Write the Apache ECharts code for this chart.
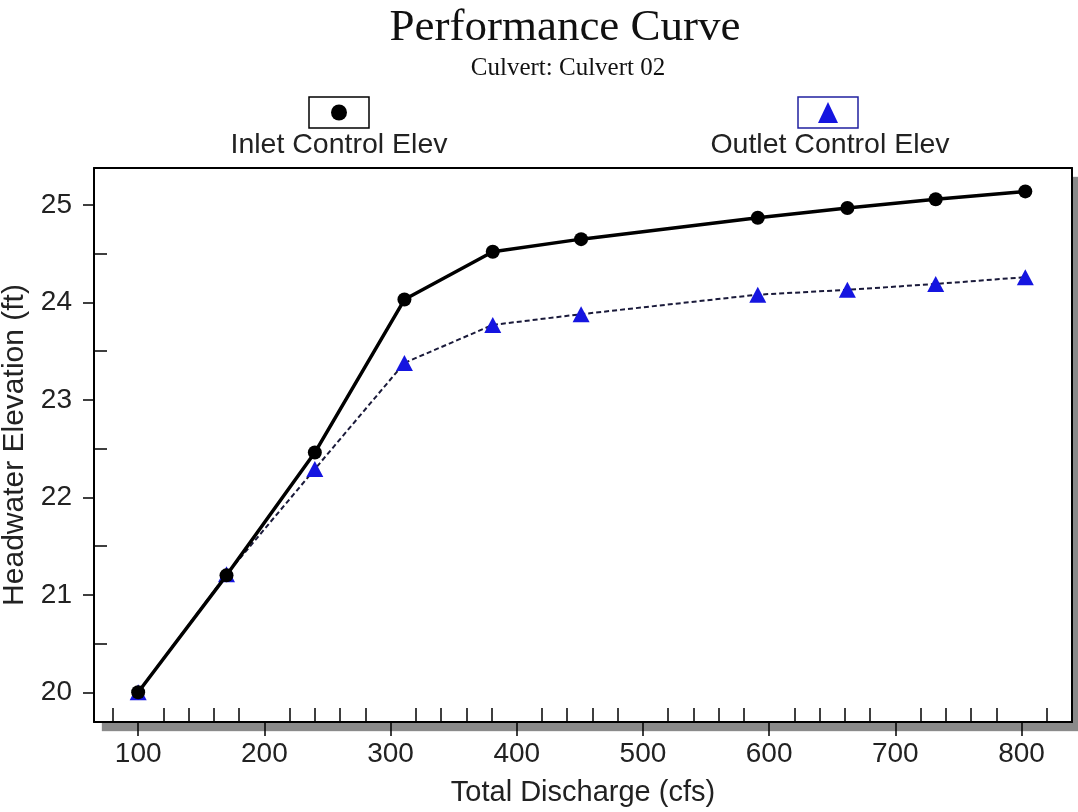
<!DOCTYPE html>
<html>
<head>
<meta charset="utf-8">
<script src="https://cdn.jsdelivr.net/npm/echarts@6/dist/echarts.min.js"></script>
<style>
  html, body { margin: 0; padding: 0; background: #fff; }
  #chart { width: 1078px; height: 812px; }
</style>
</head>
<body>
<div id="chart"></div>
<script>
// values
var discharge = [100, 170, 240, 311, 381, 451, 591, 662, 732, 803];
var inletElev = [20.0, 21.2, 22.46, 24.03, 24.52, 24.65, 24.87, 24.97, 25.06, 25.14];
var outletElev = [20.0, 21.21, 22.29, 23.38, 23.77, 23.88, 24.08, 24.13, 24.19, 24.26];

var xTicks = [100, 200, 300, 400, 500, 600, 700, 800];
var xMinorTicks = [80, 120, 140, 160, 180, 220, 240, 260, 280, 320, 340, 360, 380,
    420, 440, 460, 480, 520, 540, 560, 580, 620, 640, 660, 680, 720, 740, 760, 780, 820];
var yTicks = [20, 21, 22, 23, 24, 25];
var yMinorTicks = [20.5, 21.5, 22.5, 23.5, 24.5];

var sans = "Arial, 'Liberation Sans', sans-serif";
var serif = "'Times New Roman', 'Liberation Serif', serif";

var xMin = 65, xMax = 840, yMin = 19.695, yMax = 25.38;

function pairs(xs, ys) {
    var out = [];
    for (var i = 0; i < xs.length; i++) out.push([xs[i], ys[i]]);
    return out;
}

// plain frame axis (top / right side of the box)
function frameAxis(pos, min, max) {
    return {
        type: "value", min: min, max: max, position: pos,
        axisLine: { show: true, lineStyle: { color: "#000", width: 2 } },
        axisTick: { show: false },
        axisLabel: { show: false },
        splitLine: { show: false }
    };
}

var chart = echarts.init(document.getElementById("chart"));
chart.setOption({
    animation: false,
    backgroundColor: "#fff",
    grid: {
        left: 94, right: 6, top: 168, bottom: 90,
        show: true,
        backgroundColor: "#fff",
        borderWidth: 0,
        shadowColor: "#8a8a8a",
        shadowBlur: 1,
        shadowOffsetX: 8,
        shadowOffsetY: 9,
        outerBoundsMode: "none"
    },
    xAxis: [
        {
            type: "value", min: xMin, max: xMax, position: "bottom",
            axisLine: { lineStyle: { color: "#000", width: 2 } },
            axisTick: { customValues: xTicks, length: 14, lineStyle: { color: "#000", width: 1.5 } },
            axisLabel: { customValues: xTicks, fontSize: 28, fontFamily: sans, color: "#222", margin: 18 },
            splitLine: { show: false },
            name: "Total Discharge (cfs)",
            nameLocation: "middle",
            nameGap: 56,
            nameTextStyle: { fontSize: 29, fontFamily: sans, color: "#222" }
        },
        {
            type: "value", min: xMin, max: xMax, position: "bottom",
            axisLine: { show: false },
            axisTick: { inside: true, customValues: xMinorTicks, length: 14, lineStyle: { color: "#000", width: 1.5 } },
            axisLabel: { show: false },
            splitLine: { show: false }
        },
        frameAxis("top", xMin, xMax)
    ],
    yAxis: [
        {
            type: "value", min: yMin, max: yMax, position: "left",
            axisLine: { show: true, lineStyle: { color: "#000", width: 2 } },
            axisTick: { show: true, customValues: yTicks, length: 11, lineStyle: { color: "#000", width: 1.5 } },
            axisLabel: { customValues: yTicks, fontSize: 28, fontFamily: sans, color: "#222", margin: 22 },
            splitLine: { show: false },
            name: "Headwater Elevation (ft)",
            nameLocation: "middle",
            nameGap: 64,
            nameTextStyle: { fontSize: 30, fontFamily: sans, color: "#222" }
        },
        {
            type: "value", min: yMin, max: yMax, position: "left",
            axisLine: { show: false },
            axisTick: { show: true, inside: true, customValues: yMinorTicks, length: 13, lineStyle: { color: "#000", width: 1.5 } },
            axisLabel: { show: false },
            splitLine: { show: false }
        },
        frameAxis("right", yMin, yMax)
    ],
    series: [
        {
            name: "Outlet Control Elev",
            type: "line",
            data: pairs(discharge, outletElev),
            symbol: "triangle",
            symbolSize: [17, 16],
            itemStyle: { color: "#1515e0" },
            lineStyle: { color: "#1a1a3a", width: 2, type: [5, 3] },
            z: 3
        },
        {
            name: "Inlet Control Elev",
            type: "line",
            data: pairs(discharge, inletElev),
            symbol: "circle",
            symbolSize: 14,
            itemStyle: { color: "#000" },
            lineStyle: { color: "#000", width: 3.5 },
            z: 4
        }
    ],
    graphic: [
        {
            type: "text", x: 565, y: 28,
            style: { text: "Performance Curve", font: "45px " + serif, fill: "#111", align: "center", verticalAlign: "middle" }
        },
        {
            type: "text", x: 568, y: 68,
            style: { text: "Culvert: Culvert 02", font: "25px " + serif, fill: "#111", align: "center", verticalAlign: "middle" }
        },
        {
            type: "rect", shape: { x: 309, y: 97, width: 60, height: 31 },
            style: { fill: "#fff", stroke: "#000", lineWidth: 1.5 }
        },
        {
            type: "circle", shape: { cx: 339, cy: 112.5, r: 8 },
            style: { fill: "#000" }
        },
        {
            type: "text", x: 339, y: 145,
            style: { text: "Inlet Control Elev", font: "28.5px " + sans, fill: "#222", align: "center", verticalAlign: "middle" }
        },
        {
            type: "rect", shape: { x: 798, y: 97, width: 60, height: 31 },
            style: { fill: "#fff", stroke: "#2020a0", lineWidth: 1.5 }
        },
        {
            type: "polygon", shape: { points: [[828, 102], [818, 123], [838, 123]] },
            style: { fill: "#1515e0" }
        },
        {
            type: "text", x: 830, y: 145,
            style: { text: "Outlet Control Elev", font: "28.5px " + sans, fill: "#222", align: "center", verticalAlign: "middle" }
        }
    ]
});
</script>
</body>
</html>
